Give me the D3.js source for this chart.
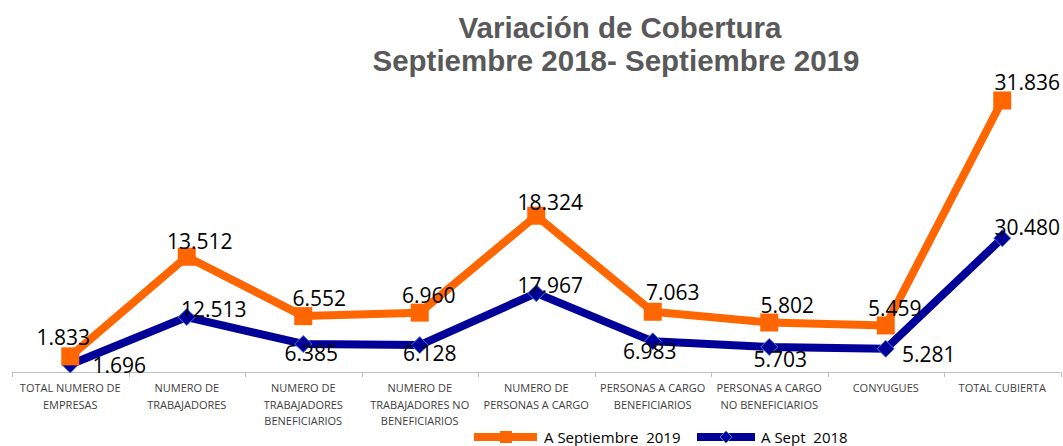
<!DOCTYPE html>
<html>
	<head>
		<title>Variacion de Cobertura</title>
		<script src="https://d3js.org/d3.v7.min.js"></script>
		<style>
			body {
				margin: 0;
				background: #fff;
			}
			.title {
				font-family: "Liberation Sans", Arial, sans-serif;
				font-weight: bold;
				fill: #595959;
			}
			.cat {
				font-family: "Open Sans", sans-serif;
				font-size: 11px;
				fill: #404040;
			}
			.val {
				font-family: "Open Sans", sans-serif;
				font-size: 21px;
				fill: #000;
			}
			.leg {
				font-family: "Open Sans", sans-serif;
				font-size: 15px;
				fill: #000;
			}
		</style>
	</head>
	<body>
		<div class="chart"></div>
		<script>
			var categories = [
				["TOTAL NUMERO DE", "EMPRESAS"],
				["NUMERO DE", "TRABAJADORES"],
				["NUMERO DE", "TRABAJADORES", "BENEFICIARIOS"],
				["NUMERO DE", "TRABAJADORES NO", "BENEFICIARIOS"],
				["NUMERO DE", "PERSONAS A CARGO"],
				["PERSONAS A CARGO", "BENEFICIARIOS"],
				["PERSONAS A CARGO", "NO BENEFICIARIOS"],
				["CONYUGUES"],
				["TOTAL CUBIERTA"]
			];
			var sept2019 = [1.833, 13.512, 6.552, 6.960, 18.324, 7.063, 5.802, 5.459, 31.836];
			var sept2018 = [1.696, 12.513, 6.385, 6.128, 17.967, 6.983, 5.703, 5.281, 30.480];
			var seriesNames = ["A Septiembre  2019", "A Sept  2018"];

			// hand placed label offsets (dx, dy) like in the original sheet
			var off2019 = [[-7,-11],[13,-8],[16,-10],[9,-10],[14,-6],[20,-12],[18,-10],[9,-9],[25,-10]];
			var off2018 = [[49,8],[27,0],[8,17],[10,16],[14,0],[-3,18],[11,20],[43,13],[25,-3]];

			var width = 1063, height = 446;
			var plotLeft = 12, plotRight = 1060.5, plotBase = 372, plotTop = 73.5;

			var svg = d3.select(".chart").append("svg")
				.attr("width", width)
				.attr("height", height);

			var x = d3.scaleBand()
				.domain(d3.range(categories.length))
				.range([plotLeft, plotRight]);

			// two series sit on separate (hidden) value axes
			var y1 = d3.scaleLinear().domain([0, 35]).range([plotBase, plotTop]);
			var y2 = d3.scaleLinear().domain([0, 68]).range([plotBase, plotTop]);

			function cx(i) { return x(i) + x.bandwidth() / 2; }

			//title
			var title = svg.append("text")
				.attr("class", "title")
				.attr("text-anchor", "middle")
				.style("font-size", "29.5px");
			title.append("tspan").attr("x", 620).attr("y", 38).text("Variación de Cobertura");
			title.append("tspan").attr("x", 616).attr("y", 71).text("Septiembre 2018- Septiembre 2019");

			//axis
			svg.append("line")
				.attr("x1", plotLeft).attr("x2", plotRight)
				.attr("y1", plotBase + 0.5).attr("y2", plotBase + 0.5)
				.attr("stroke", "#bfbfbf");

			svg.selectAll("line.tick")
				.data(d3.range(categories.length + 1))
				.enter().append("line")
				.attr("class", "tick")
				.attr("x1", function(d) { return Math.round(plotLeft + d * x.step()) + 0.5; })
				.attr("x2", function(d) { return Math.round(plotLeft + d * x.step()) + 0.5; })
				.attr("y1", plotBase)
				.attr("y2", plotBase + 5)
				.attr("stroke", "#bfbfbf");

			var cats = svg.selectAll("text.cat")
				.data(categories)
				.enter().append("text")
				.attr("class", "cat")
				.attr("text-anchor", "middle");
			cats.selectAll("tspan")
				.data(function(d, i) { return d.map(function(t) { return {t: t, i: i}; }); })
				.enter().append("tspan")
				.attr("x", function(d) { return cx(d.i); })
				.attr("y", function(d, j) { return 392 + j * 16.5; })
				.text(function(d) { return d.t; });

			//lines - 2018 first so the 2019 squares sit on top
			var line1 = d3.line().x(function(d, i) { return cx(i); }).y(function(d) { return y1(d); });
			var line2 = d3.line().x(function(d, i) { return cx(i); }).y(function(d) { return y2(d); });

			svg.append("path")
				.attr("d", line2(sept2018))
				.attr("fill", "none")
				.attr("stroke", "#000099")
				.attr("stroke-width", 8)
				.attr("stroke-linejoin", "round");

			svg.selectAll("path.m18")
				.data(sept2018)
				.enter().append("path")
				.attr("class", "m18")
				.attr("d", function(d, i) {
					var px = cx(i), py = y2(d), r = 8.5;
					return "M" + px + "," + (py - r) + "L" + (px + r) + "," + py + "L" + px + "," + (py + r) + "L" + (px - r) + "," + py + "Z";
				})
				.attr("fill", "#000099")
				.attr("stroke", "#4a7bd0")
				.attr("stroke-width", 1);

			svg.append("path")
				.attr("d", line1(sept2019))
				.attr("fill", "none")
				.attr("stroke", "#ff6600")
				.attr("stroke-width", 8)
				.attr("stroke-linejoin", "round");

			svg.selectAll("rect.m19")
				.data(sept2019)
				.enter().append("rect")
				.attr("class", "m19")
				.attr("x", function(d, i) { return cx(i) - 9; })
				.attr("y", function(d) { return y1(d) - 9; })
				.attr("width", 18)
				.attr("height", 18)
				.attr("fill", "#ff6600");

			//data labels
			svg.selectAll("text.v19")
				.data(sept2019)
				.enter().append("text")
				.attr("class", "val v19")
				.attr("text-anchor", "middle")
				.attr("x", function(d, i) { return cx(i) + off2019[i][0]; })
				.attr("y", function(d, i) { return y1(d) + off2019[i][1]; })
				.text(function(d) { return d3.format(".3f")(d); });

			svg.selectAll("text.v18")
				.data(sept2018)
				.enter().append("text")
				.attr("class", "val v18")
				.attr("text-anchor", "middle")
				.attr("x", function(d, i) { return cx(i) + off2018[i][0]; })
				.attr("y", function(d, i) { return y2(d) + off2018[i][1]; })
				.text(function(d) { return d3.format(".3f")(d); });

			//legend
			var legend = svg.append("g").attr("transform", "translate(474,437)");

			legend.append("line")
				.attr("x1", 0).attr("x2", 63)
				.attr("stroke", "#ff6600").attr("stroke-width", 8);
			legend.append("rect")
				.attr("x", 26).attr("y", -6).attr("width", 12).attr("height", 12)
				.attr("fill", "#ff6600");
			legend.append("text")
				.attr("class", "leg")
				.attr("x", 70).attr("y", 6)
				.style("white-space", "pre")
				.text(seriesNames[0]);

			legend.append("line")
				.attr("x1", 223).attr("x2", 281)
				.attr("stroke", "#000099").attr("stroke-width", 8);
			legend.append("path")
				.attr("d", "M252,-6L258,0L252,6L246,0Z")
				.attr("fill", "#000099")
				.attr("stroke", "#4a7bd0");
			legend.append("text")
				.attr("class", "leg")
				.attr("x", 287).attr("y", 6)
				.style("white-space", "pre")
				.text(seriesNames[1]);
		</script>
	</body>
</html>
